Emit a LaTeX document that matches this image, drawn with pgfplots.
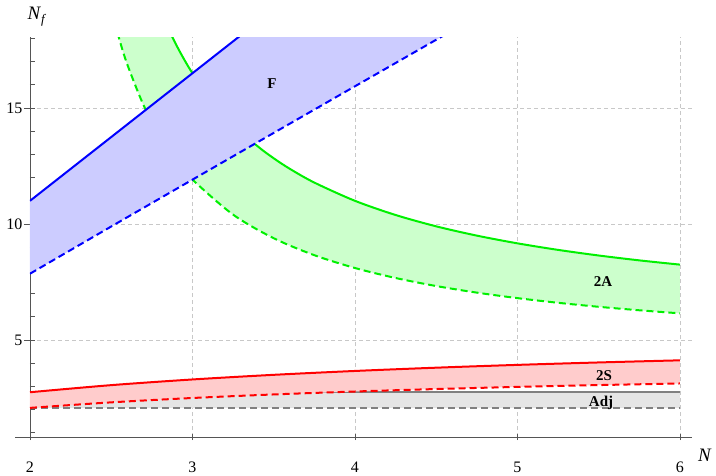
\documentclass[border=0pt]{standalone}
\usepackage{fontspec}
\setmainfont{Liberation Serif}
\usepackage{pgfplots}
\usepackage{pgfplotstable}
\usepgfplotslibrary{fillbetween}
\pgfplotsset{compat=1.18}
\tikzset{fill between/on layer=main}

\definecolor{axisgray}{RGB}{85,85,85}
\definecolor{gridgray}{RGB}{200,200,200}
\definecolor{fFill}{RGB}{204,204,255}
\definecolor{aFill}{RGB}{204,255,204}
\definecolor{sFill}{RGB}{255,204,204}
\definecolor{adjFill}{RGB}{229,229,229}
\definecolor{aLine}{RGB}{0,240,0}

% Fundamental representation
\pgfplotstableread{
N Nf
2 11
4 22
}\fUpper
\pgfplotstableread{
N Nf
2 7.859
2.5 9.894
3 11.914
3.5 13.928
4 15.938
4.5 17.944
5 19.951
}\fLower

% Two-index antisymmetric
\pgfplotstableread{
N Nf
2.5 27.5
2.75 20.167
2.8 19.25
2.85 18.441
2.9 17.722
2.95 17.079
3 16.5
3.1 15.5
3.2 14.667
3.25 14.3
3.4 13.357
3.5 12.833
3.6 12.375
3.75 11.786
4 11
4.25 10.389
4.5 9.9
4.75 9.5
5 9.167
5.25 8.885
5.5 8.643
5.75 8.433
6 8.25
}\aUpper
\pgfplotstableread{
N Nf
2.4 22.888
2.45 20.890
2.5 19.283
2.55 17.961
2.6 16.854
2.7 15.104
2.8 13.782
2.9 12.747
3 11.914
3.25 10.404
3.5 9.387
3.75 8.656
4 8.104
4.25 7.673
4.5 7.327
4.75 7.043
5 6.806
5.25 6.605
5.5 6.432
5.75 6.282
6 6.150
}\aLower

% Two-index symmetric
\pgfplotstableread{
N Nf
2 2.75
2.5 3.0556
3 3.3
3.5 3.5
4 3.6667
4.5 3.8077
5 3.9286
5.5 4.0333
6 4.125
}\sUpper
\pgfplotstableread{
N Nf
2 2.075
2.5 2.3134
3 2.5015
3.5 2.6543
4 2.7810
4.5 2.8877
5 2.9790
5.5 3.0580
6 3.127
}\sLower

% Adjoint
\pgfplotstableread{
N Nf
2 2.75
6 2.75
}\adjUpper
\pgfplotstableread{
N Nf
2 2.075
6 2.075
}\adjLower

\begin{document}
\begin{tikzpicture}
\begin{axis}[
  at={(0pt,0pt)}, anchor=south west,
  scale only axis, width=662pt, height=399.5pt,
  xmin=2, xmax=6.074, ymin=0.82, ymax=18.04,
  axis x line=bottom, axis y line=left,
  axis line style={-, draw=axisgray, line width=0.8pt},
  xtick={2,3,4,5,6}, ytick={5,10,15}, minor ytick={1,...,18},
  grid=major,
  major grid style={gridgray, dash pattern=on 4pt off 3pt, line width=0.6pt},
  minor grid style={draw=none},
  tick style={axisgray, line width=0.8pt},
  major tick length=6pt, minor tick length=5pt,
  tick align=center,
  major y tick style={xshift=-3pt},
  minor y tick style={xshift=2.5pt},
  /pgf/number format/assume math mode=true,
  ticklabel style={font=\fontsize{16}{18}\selectfont, text=black},
  xticklabel style={yshift=-18pt},
  yticklabel style={xshift=-1pt},
  clip mode=individual,
  every axis plot/.append style={line join=round},
]
% Adjoint
\addplot[draw=none, name path=adjU] table {\adjUpper};
\addplot[draw=none, name path=adjL] table {\adjLower};
\addplot[adjFill] fill between[of=adjU and adjL];
\addplot[gray, line width=2pt] table {\adjUpper};
\addplot[gray, line width=2pt, dash pattern=on 7pt off 4pt] table {\adjLower};

% Two-index symmetric
\addplot[draw=none, smooth, name path=sU] table {\sUpper};
\addplot[draw=none, smooth, name path=sL] table {\sLower};
\addplot[sFill] fill between[of=sU and sL];
\addplot[red, line width=2pt, smooth] table {\sUpper};
\addplot[red, line width=2pt, smooth, dash pattern=on 7pt off 4pt] table {\sLower};

% Two-index antisymmetric
\addplot[draw=none, smooth, name path=aU] table {\aUpper};
\addplot[draw=none, smooth, name path=aL] table {\aLower};
\addplot[aFill] fill between[of=aU and aL];
\addplot[aLine, line width=2pt, smooth] table {\aUpper};
\addplot[aLine, line width=2pt, smooth, dash pattern=on 7pt off 4pt] table {\aLower};

% Fundamental
\addplot[draw=none, name path=fU] table {\fUpper};
\addplot[draw=none, smooth, name path=fL] table {\fLower};
\addplot[fFill] fill between[of=fU and fL];
\addplot[blue, line width=2pt] table {\fUpper};
\addplot[blue, line width=2pt, smooth, dash pattern=on 7pt off 4pt] table {\fLower};

% region labels
\node[font=\bfseries\fontsize{15}{16}\selectfont] at (axis cs:3.489,16.04) {F};
\node[font=\bfseries\fontsize{15}{16}\selectfont] at (axis cs:5.526,7.50) {2A};
\node[font=\bfseries\fontsize{15}{16}\selectfont] at (axis cs:5.532,3.45) {2S};
\node[font=\bfseries\fontsize{15}{16}\selectfont] at (axis cs:5.514,2.29) {Adj};

% axis extension and axis labels
\draw[axisgray, line width=0.8pt] (axis cs:1.908,0.82) -- (axis cs:2,0.82);
\node[font=\fontsize{19}{20}\selectfont] at (axis cs:2.043,18.95) {\textit{N}\raisebox{-0.45ex}{\fontsize{13}{14}\selectfont\textit{f}}};
\node[font=\fontsize{19}{20}\selectfont] at (axis cs:6.154,0.044) {\textit{N}};
\end{axis}
\pgfresetboundingbox
\path[use as bounding box] (-30pt,-38pt) rectangle (686pt,437pt);
\end{tikzpicture}
\end{document}
